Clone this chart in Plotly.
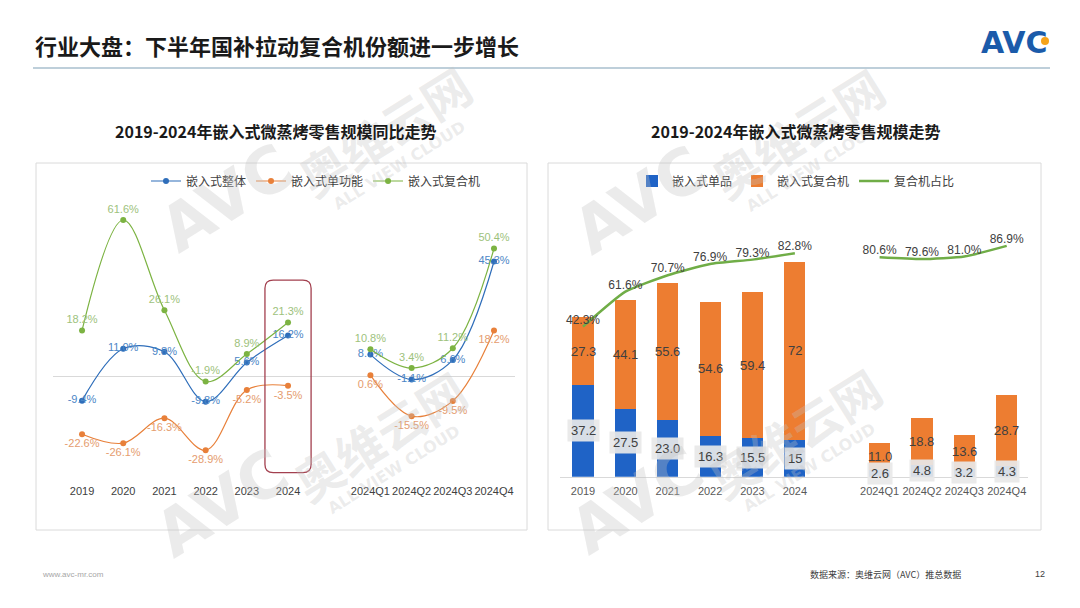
import plotly.graph_objects as go

years = ['2019', '2020', '2021', '2022', '2023', '2024']
quarters = ['2024Q1', '2024Q2', '2024Q3', '2024Q4']
cats = years + [''] + quarters   # empty slot between the yearly and quarterly groups

# left chart: YoY growth, %
yoy_total = [-9.4, 11.0, 9.8, -9.8, 5.6, 16.2, None, 8.7, -1.1, 6.6, 45.3]
yoy_single = [-22.6, -26.1, -16.3, -28.9, -5.2, -3.5, None, 0.6, -15.5, -9.5, 18.2]
yoy_combo = [18.2, 61.6, 26.1, -1.9, 8.9, 21.3, None, 10.8, 3.4, 11.2, 50.4]

# right chart: retail scale and share of combo ovens
scale_single = [37.2, 27.5, 23.0, 16.3, 15.5, 15, None, 2.6, 4.8, 3.2, 4.3]
scale_combo = [27.3, 44.1, 55.6, 54.6, 59.4, 72, None, 11.0, 18.8, 13.6, 28.7]
single_text = ['37.2', '27.5', '23.0', '16.3', '15.5', '15', '', '2.6', '4.8', '3.2', '4.3']
combo_text = ['27.3', '44.1', '55.6', '54.6', '59.4', '72', '', '11.0', '18.8', '13.6', '28.7']
combo_share = [42.3, 61.6, 70.7, 76.9, 79.3, 82.8, None, 80.6, 79.6, 81.0, 86.9]

W, H = 1080, 608
OFF = 8   # page body margin, so pixel targets below are window pixels
FONT = 'Liberation Sans, Noto Sans CJK SC, sans-serif'
CJK = 'Noto Sans CJK SC, sans-serif'


def px(x):
    return (x - OFF) / W


def py(y):
    return 1 - (y - OFF) / H


def pct(v):
    return '' if v is None else '{:.1f}%'.format(v)


def note(x, y, text, size, color, family=CJK, xanchor='center', yanchor='middle', **kw):
    return dict(x=px(x), y=py(y), xref='paper', yref='paper', showarrow=False,
                xanchor=xanchor, yanchor=yanchor, text=text,
                font=dict(size=size, color=color, family=family), **kw)


xpos = list(range(len(cats)))
fig = go.Figure()

# ---- left: growth lines
left_series = [
    ('嵌入式整体', yoy_total, '#2F6EBA', '#4C86C6', 'middle center'),
    ('嵌入式单功能', yoy_single, '#E8803A', '#E59C6E', 'bottom center'),
    ('嵌入式复合机', yoy_combo, '#7CB342', '#9DC27C', 'top center'),
]
for name, vals, col, tcol, tpos in left_series:
    fig.add_trace(go.Scatter(
        x=xpos, y=vals, name=name, mode='lines+markers+text',
        line=dict(color=col, width=1.2, shape='spline', smoothing=1),
        marker=dict(color=col, size=6),
        text=[pct(v) for v in vals], textposition=tpos,
        textfont=dict(color=tcol, size=11, family=FONT),
        connectgaps=False, xaxis='x', yaxis='y', legend='legend',
        hoverinfo='skip'))

# ---- right: stacked bars + share line
fig.add_trace(go.Bar(x=xpos, y=scale_single, name='嵌入式单品', width=0.5,
                     marker=dict(color='#1F63C6', line=dict(width=0)),
                     xaxis='x2', yaxis='y2', legend='legend2', hoverinfo='skip'))
fig.add_trace(go.Bar(x=xpos, y=scale_combo, name='嵌入式复合机', width=0.5,
                     marker=dict(color='#ED7D31', line=dict(width=0)),
                     xaxis='x2', yaxis='y2', legend='legend2', hoverinfo='skip'))
fig.add_trace(go.Scatter(
    x=xpos, y=combo_share, name='复合机占比', mode='lines+text',
    line=dict(color='#70AD47', width=2.5, shape='spline', smoothing=0.5),
    text=[pct(v) for v in combo_share], textposition='top center',
    textfont=dict(color='#404040', size=12, family=FONT),
    connectgaps=False, xaxis='x2', yaxis='y3', legend='legend2', hoverinfo='skip'))

annotations = []

for i in xpos:
    s, c = scale_single[i], scale_combo[i]
    if s is None:
        continue
    annotations.append(dict(x=i, y=s / 2, xref='x2', yref='y2', showarrow=False,
                            text=single_text[i], bgcolor='rgba(232,232,232,0.92)',
                            borderpad=3, font=dict(size=13, color='#404040', family=FONT)))
    annotations.append(dict(x=i, y=s + c / 2, xref='x2', yref='y2', showarrow=False,
                            text=combo_text[i], font=dict(size=13, color='#404040', family=FONT)))

# faint tiled watermark (drawn over the charts, as in the slide)
WM = 'rgba(195,195,195,0.33)'
for ax_, ay_ in [(227, 198), (640, 200), (222, 503), (637, 500)]:
    annotations.append(note(ax_, ay_, '<b>AVC</b>', 64, WM, family='DejaVu Sans', textangle=-32))
    annotations.append(note(ax_ + 157, ay_ - 68, '<b>奥维云网</b>', 48, WM, textangle=-32))
    annotations.append(note(ax_ + 172, ay_ - 33, '<b>ALL VIEW CLOUD</b>', 16, WM,
                            family='DejaVu Sans', textangle=-32))

# titles / footer / logo
annotations += [
    note(33, 45, '<b>行业大盘：下半年国补拉动复合机份额进一步增长</b>', 22, '#1A1A1A', xanchor='left'),
    note(275, 131, '<b>2019-2024年嵌入式微蒸烤零售规模同比走势</b>', 16, '#1A1A1A'),
    note(795, 131, '<b>2019-2024年嵌入式微蒸烤零售规模走势</b>', 16, '#1A1A1A'),
    note(40, 574, 'www.avc-mr.com', 8, '#A6A6A6', family=FONT, xanchor='left'),
    note(808, 574, '数据来源：奥维云网（AVC）推总数据', 9, '#404040', xanchor='left'),
    note(1040, 574, '12', 9, '#404040', family=FONT),
    note(1014, 43, '<b>AVC</b>', 30, '#1B5BAA', family='DejaVu Sans'),
]

# rounded highlight around the 2024 column
i24 = cats.index('2024')
x0, x1 = i24 - 0.56, i24 + 0.56
yb, yt = -37.7, 38.0
rx, ry = 0.2, 3.2
box_path = ('M {a},{yb} L {b},{yb} Q {x1},{yb} {x1},{yb2} L {x1},{yt2} Q {x1},{yt} {b},{yt} '
            'L {a},{yt} Q {x0},{yt} {x0},{yt2} L {x0},{yb2} Q {x0},{yb} {a},{yb} Z').format(
    a=x0 + rx, b=x1 - rx, x0=x0, x1=x1, yb=yb, yt=yt, yb2=yb + ry, yt2=yt - ry)

shapes = [
    dict(type='line', xref='paper', yref='paper', x0=px(33), x1=px(1050), y0=py(68), y1=py(68),
         line=dict(color='#A9BFCE', width=1.5)),
    dict(type='rect', xref='paper', yref='paper', x0=px(36), x1=px(527), y0=py(163), y1=py(530),
         line=dict(color='#DADADA', width=1)),
    dict(type='rect', xref='paper', yref='paper', x0=px(548), x1=px(1041), y0=py(163), y1=py(530),
         line=dict(color='#DADADA', width=1)),
    dict(type='path', xref='x', yref='y', path=box_path, line=dict(color='#A3404F', width=1.3)),
    dict(type='circle', xref='paper', yref='paper', x0=px(1041), x1=px(1049), y0=py(45), y1=py(37),
         fillcolor='#F5A31A', line=dict(width=0)),
]

fig.update_layout(
    width=W, height=H, margin=dict(l=0, r=0, t=0, b=0),
    paper_bgcolor='white', plot_bgcolor='rgba(0,0,0,0)',
    barmode='stack', showlegend=True,
    font=dict(family=FONT, color='#404040'),
    annotations=annotations, shapes=shapes,
    xaxis=dict(domain=[px(53.2), px(514.6)], range=[-0.7, 10.5], anchor='y',
               tickvals=xpos, ticktext=cats, showgrid=False, zeroline=False, showline=False,
               ticks='outside', ticklen=2, tickcolor='rgba(0,0,0,0)',
               tickfont=dict(size=11, color='#404040')),
    yaxis=dict(domain=[py(479), py(200)], range=[-40.2, 69.46], anchor='x',
               showticklabels=False, showgrid=False, zeroline=True,
               zerolinecolor='#D9D9D9', zerolinewidth=1),
    xaxis2=dict(domain=[px(559.7), px(1027.9)], range=[-0.55, 10.5], anchor='y2',
                tickvals=xpos, ticktext=cats, showgrid=False, zeroline=False,
                showline=True, linecolor='#D9D9D9', linewidth=1,
                ticks='outside', ticklen=4, tickcolor='rgba(0,0,0,0)',
                tickfont=dict(size=11, color='#595959')),
    yaxis2=dict(domain=[py(476.7), py(200)], range=[0, 112.0], anchor='x2',
                showticklabels=False, showgrid=False, zeroline=False),
    yaxis3=dict(overlaying='y2', range=[-40.5, 112.2], anchor='x2', visible=False),
    legend=dict(orientation='h', x=px(146), y=py(181), xanchor='left', yanchor='middle',
                traceorder='normal', bgcolor='rgba(0,0,0,0)',
                font=dict(size=12, color='#404040', family=CJK)),
    legend2=dict(orientation='h', x=px(632), y=py(181), xanchor='left', yanchor='middle',
                 traceorder='normal', bgcolor='rgba(0,0,0,0)',
                 font=dict(size=12, color='#404040', family=CJK)),
)

fig.write_html("out.html")
